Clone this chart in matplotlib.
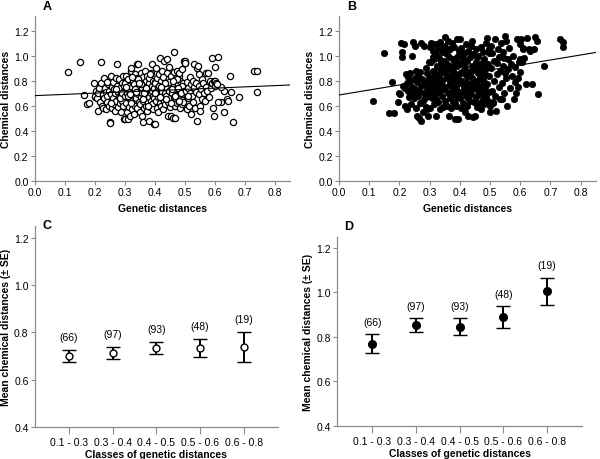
import numpy as np
import matplotlib
matplotlib.use('Agg')
import matplotlib.pyplot as plt

plt.rcParams['font.family'] = ['Liberation Sans', 'DejaVu Sans']
plt.rcParams['font.size'] = 8

# genetic distances, grouped by class (0.1-0.3, 0.3-0.4, 0.4-0.5, 0.5-0.6, 0.6-0.8)
gen1 = [0.112, 0.150, 0.165, 0.175, 0.182, 0.196, 0.200, 0.202, 0.205, 0.208,
        0.210, 0.212, 0.215, 0.218, 0.220, 0.222, 0.225, 0.226, 0.228, 0.230,
        0.232, 0.235, 0.236, 0.238, 0.240, 0.242, 0.245, 0.246, 0.248, 0.250,
        0.251, 0.253, 0.255, 0.257, 0.258, 0.260, 0.262, 0.264, 0.265, 0.267,
        0.268, 0.270, 0.272, 0.273, 0.275, 0.277, 0.278, 0.280, 0.282, 0.284,
        0.285, 0.287, 0.288, 0.290, 0.291, 0.293, 0.294, 0.296, 0.297, 0.298,
        0.285, 0.270, 0.255, 0.240, 0.290, 0.299]
gen2 = [0.301, 0.302, 0.304, 0.305, 0.306, 0.308, 0.309, 0.310, 0.312, 0.313,
        0.314, 0.315, 0.317, 0.318, 0.319, 0.320, 0.322, 0.323, 0.325, 0.326,
        0.327, 0.328, 0.330, 0.331, 0.332, 0.334, 0.335, 0.336, 0.338, 0.339,
        0.340, 0.341, 0.342, 0.344, 0.345, 0.346, 0.347, 0.349, 0.350, 0.351,
        0.352, 0.354, 0.355, 0.356, 0.357, 0.358, 0.360, 0.361, 0.362, 0.363,
        0.364, 0.366, 0.367, 0.368, 0.369, 0.370, 0.372, 0.373, 0.374, 0.375,
        0.376, 0.378, 0.379, 0.380, 0.381, 0.382, 0.384, 0.385, 0.386, 0.387,
        0.388, 0.389, 0.390, 0.391, 0.392, 0.393, 0.394, 0.395, 0.396, 0.397,
        0.398, 0.399, 0.303, 0.311, 0.321, 0.333, 0.343, 0.353, 0.365, 0.377,
        0.383, 0.371, 0.359, 0.348, 0.337, 0.324, 0.316]
gen3 = [0.400, 0.401, 0.403, 0.404, 0.405, 0.407, 0.408, 0.409, 0.411, 0.412,
        0.413, 0.415, 0.416, 0.417, 0.419, 0.420, 0.421, 0.423, 0.424, 0.425,
        0.427, 0.428, 0.429, 0.431, 0.432, 0.433, 0.435, 0.436, 0.437, 0.439,
        0.440, 0.441, 0.443, 0.444, 0.445, 0.447, 0.448, 0.449, 0.451, 0.452,
        0.453, 0.455, 0.456, 0.457, 0.459, 0.460, 0.461, 0.463, 0.464, 0.465,
        0.467, 0.468, 0.469, 0.471, 0.472, 0.473, 0.475, 0.476, 0.477, 0.479,
        0.480, 0.481, 0.483, 0.484, 0.485, 0.487, 0.488, 0.489, 0.491, 0.492,
        0.493, 0.495, 0.496, 0.497, 0.499, 0.402, 0.414, 0.426, 0.438, 0.446,
        0.458, 0.466, 0.474, 0.482, 0.490, 0.498, 0.434, 0.418, 0.462, 0.478,
        0.486, 0.422, 0.454]
gen4 = [0.500, 0.502, 0.504, 0.506, 0.508, 0.510, 0.512, 0.514, 0.516, 0.518,
        0.520, 0.522, 0.524, 0.526, 0.528, 0.530, 0.532, 0.534, 0.536, 0.538,
        0.540, 0.542, 0.544, 0.546, 0.548, 0.550, 0.552, 0.554, 0.556, 0.558,
        0.560, 0.563, 0.566, 0.569, 0.572, 0.575, 0.578, 0.581, 0.584, 0.587,
        0.590, 0.592, 0.594, 0.596, 0.598, 0.599, 0.511, 0.547]
gen5 = [0.610, 0.602, 0.600, 0.605, 0.620, 0.630, 0.640, 0.650, 0.660, 0.655,
        0.680, 0.730, 0.740, 0.742, 0.632, 0.612, 0.622, 0.645, 0.608]

# chemical distances, panel A
chemA1 = [0.87, 0.95, 0.685, 0.61, 0.62, 0.78, 0.67, 0.68, 0.72, 0.66,
          0.70, 0.56, 0.74, 0.63, 0.78, 0.95, 0.60, 0.69, 0.58, 0.82,
          0.66, 0.74, 0.57, 0.71, 0.68, 0.63, 0.77, 0.60, 0.72, 0.47,
          0.46, 0.84, 0.69, 0.58, 0.75, 0.66, 0.79, 0.61, 0.73, 0.56,
          0.70, 0.82, 0.64, 0.76, 0.93, 0.59, 0.71, 0.67, 0.81, 0.62,
          0.74, 0.55, 0.69, 0.78, 0.64, 0.84, 0.60, 0.72, 0.49, 0.76,
          0.66, 0.73, 0.62, 0.79, 0.70, 0.68]
chemA2 = [0.49, 0.78, 0.62, 0.84, 0.70, 0.55, 0.73, 0.49, 0.81, 0.66,
          0.59, 0.76, 0.69, 0.52, 0.88, 0.90, 0.64, 0.75, 0.57, 0.71,
          0.80, 0.62, 0.68, 0.53, 0.77, 0.85, 0.60, 0.72, 0.66, 0.93,
          0.74, 0.58, 0.82, 0.69, 0.935, 0.63, 0.76, 0.55, 0.71, 0.79,
          0.61, 0.86, 0.67, 0.74, 0.52, 0.70, 0.47, 0.83, 0.64, 0.77,
          0.58, 0.72, 0.88, 0.65, 0.80, 0.60, 0.75, 0.69, 0.56, 0.84,
          0.71, 0.63, 0.78, 0.48, 0.67, 0.82, 0.73, 0.59, 0.86, 0.70,
          0.64, 0.76, 0.93, 0.61, 0.72, 0.80, 0.57, 0.68, 0.45, 0.74,
          0.66, 0.79, 0.75, 0.68, 0.62, 0.73, 0.81, 0.77, 0.70, 0.60,
          0.85, 0.74, 0.65, 0.78, 0.71, 0.83, 0.69]
chemA3 = [0.45, 0.78, 0.64, 0.90, 0.71, 0.58, 0.82, 0.67, 0.55, 0.75,
          0.69, 0.85, 0.62, 0.98, 0.73, 0.60, 0.80, 0.66, 0.88, 0.71,
          0.57, 0.76, 0.96, 0.64, 0.83, 0.70, 0.61, 0.79, 0.68, 0.86,
          0.97, 0.74, 0.52, 0.81, 0.63, 0.91, 0.72, 0.59, 0.77, 0.66,
          0.84, 0.52, 0.70, 0.62, 0.79, 0.50, 0.75, 0.67, 0.87, 1.03,
          0.60, 0.50, 0.73, 0.82, 0.65, 0.88, 0.62, 0.77, 0.69, 0.84,
          0.63, 0.86, 0.71, 0.58, 0.80, 0.66, 0.74, 0.61, 0.89, 0.69,
          0.78, 0.63, 0.96, 0.72, 0.94, 0.70, 0.76, 0.83, 0.65, 0.79,
          0.73, 0.68, 0.81, 0.64, 0.76, 0.72, 0.78, 0.67, 0.80, 0.74,
          0.70, 0.75, 0.62]
chemA4 = [0.96, 0.94, 0.72, 0.57, 0.79, 0.66, 0.74, 0.60, 0.83, 0.70,
          0.53, 0.77, 0.68, 0.80, 0.63, 0.93, 0.75, 0.58, 0.71, 0.78,
          0.48, 0.90, 0.92, 0.69, 0.76, 0.60, 0.56, 0.73, 0.81, 0.65,
          0.78, 0.70, 0.64, 0.75, 0.86, 0.72, 0.86, 0.67, 0.80, 0.74,
          0.98, 0.78, 0.58, 0.52, 0.80, 0.76, 0.68, 0.85]
chemA5 = [0.99, 0.91, 0.80, 0.78, 0.63, 0.55, 0.65, 0.84, 0.47, 0.71,
          0.67, 0.88, 0.875, 0.71, 0.72, 0.63, 0.75, 0.64, 0.77]

# chemical distances, panel B
chemB1 = [0.64, 1.02, 0.54, 0.79, 0.54, 0.63, 0.70, 0.69, 1.10, 1.03,
          0.99, 0.76, 1.09, 0.74, 0.60, 0.85, 0.57, 0.78, 0.83, 0.72,
          0.67, 0.86, 0.80, 0.61, 0.75, 1.00, 0.70, 1.11, 0.66, 0.82,
          0.73, 1.08, 0.58, 0.79, 0.52, 0.68, 0.84, 0.50, 0.72, 0.87,
          0.62, 0.48, 0.76, 1.10, 0.81, 0.64, 0.55, 1.08, 0.70, 0.78,
          0.66, 0.90, 0.59, 0.74, 0.86, 0.52, 0.80, 0.68, 0.95, 0.72,
          0.77, 0.62, 0.88, 0.73, 0.57, 0.83]
chemB2 = [1.07, 0.58, 0.95, 0.72, 1.10, 0.81, 0.66, 1.04, 0.88, 0.61,
          0.97, 0.76, 1.09, 0.69, 0.85, 0.52, 1.01, 0.79, 0.92, 0.74,
          1.06, 0.63, 0.83, 0.98, 0.71, 0.57, 1.11, 0.87, 0.77, 0.94,
          0.68, 1.03, 0.80, 0.59, 0.90, 1.08, 0.73, 0.96, 1.15, 0.64,
          0.86, 0.75, 1.02, 0.60, 0.93, 0.82, 1.12, 0.70, 0.89, 0.52,
          0.99, 0.78, 0.66, 1.05, 0.84, 0.91, 0.58, 0.76, 1.10, 0.72,
          0.88, 0.63, 0.95, 0.81, 1.07, 0.69, 0.85, 0.49, 0.98, 0.74,
          0.60, 0.92, 1.13, 0.79, 0.67, 1.00, 0.83, 0.49, 0.71, 0.94,
          1.04, 0.86, 0.77, 0.99, 0.65, 0.90, 0.75, 1.06, 0.82, 0.97,
          0.62, 0.89, 1.01, 0.73, 0.96, 0.80, 0.87]
chemB3 = [1.13, 0.66, 0.93, 0.58, 1.06, 0.80, 0.71, 0.98, 0.62, 0.88,
          0.75, 1.02, 0.55, 0.91, 0.68, 1.09, 0.79, 0.60, 0.96, 0.84,
          0.52, 1.04, 0.73, 0.87, 0.64, 0.99, 0.77, 1.08, 0.69, 0.92,
          1.12, 0.82, 0.51, 0.74, 1.01, 0.63, 0.89, 0.52, 0.78, 0.95,
          0.67, 1.05, 0.80, 0.59, 0.86, 0.72, 1.00, 0.76, 0.62, 0.91,
          0.83, 0.70, 1.07, 0.57, 0.94, 0.75, 0.65, 0.88, 1.03, 0.79,
          0.61, 0.97, 0.73, 0.85, 1.10, 0.68, 0.90, 1.14, 0.77, 0.64,
          0.93, 0.71, 1.02, 0.84, 0.60, 0.78, 0.96, 0.66, 0.87, 0.74,
          0.99, 0.81, 0.70, 0.92, 0.63, 1.05, 0.76, 0.85, 0.69, 0.82,
          0.90, 0.72, 0.80]
chemB4 = [0.55, 1.08, 0.90, 0.72, 1.02, 0.62, 0.96, 0.80, 1.13, 0.68,
          0.56, 0.94, 0.85, 1.05, 0.75, 0.99, 0.65, 0.88, 1.10, 0.78,
          0.65, 0.92, 1.03, 0.70, 0.86, 1.16, 0.82, 1.12, 0.60, 0.97,
          0.89, 1.06, 0.74, 0.93, 0.84, 1.00, 0.65, 0.79, 0.91, 0.70,
          1.13, 0.82, 0.75, 0.95, 0.87, 1.09, 0.63, 0.98]
chemB5 = [1.05, 1.13, 0.97, 0.95, 0.77, 1.05, 0.77, 1.15, 0.69, 1.12,
          0.92, 1.13, 1.11, 1.07, 1.04, 0.98, 1.14, 1.05, 1.06]

# regression lines (intercept, slope)
fitA = (0.68, 0.10)
fitB = (0.685, 0.40)

# class summaries for C and D
classes = ['0.1 - 0.3', '0.3 - 0.4', '0.4 - 0.5', '0.5 - 0.6', '0.6 - 0.8']
counts = [66, 97, 93, 48, 19]
meanC = [0.700, 0.713, 0.733, 0.733, 0.737]
seC = [0.025, 0.025, 0.025, 0.037, 0.063]
meanD = [0.770, 0.853, 0.845, 0.891, 1.005]
seD = [0.044, 0.033, 0.038, 0.049, 0.062]

gen = np.array(gen1 + gen2 + gen3 + gen4 + gen5)
chemA = np.array(chemA1 + chemA2 + chemA3 + chemA4 + chemA5)
chemB = np.array(chemB1 + chemB2 + chemB3 + chemB4 + chemB5)

fig = plt.figure(figsize=(6, 4.6), dpi=100)
spine_col = '#8c8c8c'


def style(ax):
    for s in ['top', 'right']:
        ax.spines[s].set_visible(False)
    for s in ['left', 'bottom']:
        ax.spines[s].set_color(spine_col)
        ax.spines[s].set_linewidth(0.9)
    ax.tick_params(length=3, width=0.8, color=spine_col, labelsize=7.5, pad=1.5)


def scatter_panel(rect, chem, fit, filled, letter):
    ax = fig.add_axes(rect)
    if filled:
        ax.scatter(gen, chem, s=21, c='black', edgecolors='black', linewidths=0.5, zorder=3)
    else:
        ax.scatter(gen, chem, s=20, facecolors='white', edgecolors='black', linewidths=0.9, zorder=3)
    xx = np.array([0, 0.85])
    ax.plot(xx, fit[0] + fit[1] * xx, color='black', lw=0.8, zorder=4)
    ax.set_xlim(0, 0.85)
    ax.set_ylim(0, 1.32)
    ax.set_xticks(np.arange(0, 0.81, 0.1))
    ax.set_xticklabels(['%.1f' % v for v in np.arange(0, 0.81, 0.1)])
    ax.set_yticks(np.arange(0, 1.21, 0.2))
    ax.set_yticklabels(['%.1f' % v for v in np.arange(0, 1.21, 0.2)])
    ax.set_xlabel('Genetic distances', fontweight='bold', fontsize=7.5, labelpad=4)
    ax.set_ylabel('Chemical distances', fontweight='bold', fontsize=7.5)
    ax.yaxis.set_label_coords(-0.094, 0.5)
    style(ax)
    ax.text(0.03, 1.04, letter, transform=ax.transAxes, fontweight='bold', fontsize=9)
    return ax


def mean_panel(rect, means, ses, filled, letter, xpad, letter_y):
    ax = fig.add_axes(rect)
    pos = np.arange(len(classes))
    ax.errorbar(pos, means, yerr=ses, fmt='o', color='black', ecolor='black',
                elinewidth=1.4, capsize=5, capthick=1.4,
                markersize=5.5 if filled else 5,
                markerfacecolor='black' if filled else 'white',
                markeredgewidth=1.0, zorder=3)
    for p, m, s, n in zip(pos, means, ses, counts):
        ax.text(p, m + s + 0.055, '(%d)' % n, ha='center', va='center', fontsize=7.5)
    ax.set_xlim(-xpad, len(classes) - 1 + xpad)
    ax.set_ylim(0.4, 1.25)
    ax.set_xticks(pos)
    ax.set_xticklabels(classes, fontsize=6.8)
    ax.set_yticks(np.arange(0.4, 1.21, 0.2))
    ax.set_yticklabels(['%.1f' % v for v in np.arange(0.4, 1.21, 0.2)])
    ax.set_xlabel('Classes of genetic distances', fontweight='bold', fontsize=7.5, labelpad=2)
    ax.set_ylabel('Mean chemical distances (\u00b1 SE)', fontweight='bold', fontsize=7.5)
    ax.yaxis.set_label_coords(-0.097, 0.5)
    style(ax)
    ax.tick_params(axis='x', length=5, pad=2)
    fig.text(rect[0] + 0.012, letter_y, letter, fontweight='bold', fontsize=9)
    return ax


scatter_panel([0.058, 0.605, 0.425, 0.359], chemA, fitA, False, 'A')
scatter_panel([0.565, 0.605, 0.428, 0.359], chemB, fitB, True, 'B')
mean_panel([0.058, 0.070, 0.405, 0.437], meanC, seC, False, 'C', 0.78, 0.503)
mean_panel([0.562, 0.072, 0.408, 0.411], meanD, seD, True, 'D', 0.80, 0.50)

fig.savefig('out.png', dpi=100)
